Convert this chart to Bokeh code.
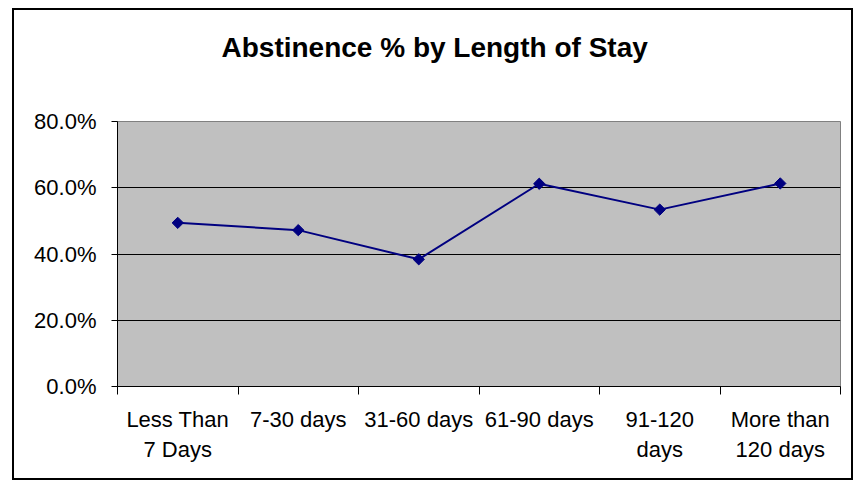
from bokeh.plotting import figure
from bokeh.models import FixedTicker, NumeralTickFormatter, Range1d, ColumnDataSource, Title
from bokeh.embed import file_html
from bokeh.resources import INLINE
import numpy as np

title_text = "Abstinence % by Length of Stay"
categories = ["Less Than\n7 Days", "7-30 days", "31-60 days", "61-90 days", "91-120\ndays", "More than\n120 days"]
values = [0.494, 0.472, 0.384, 0.612, 0.534, 0.613]
y_ticks = [0.0, 0.2, 0.4, 0.6, 0.8]

xs = [i + 0.5 for i in range(len(categories))]
src = ColumnDataSource(dict(x=xs, y=values))

W, H = 841, 472
p = figure(width=W, height=H, output_backend="svg", toolbar_location=None,
           x_range=Range1d(0, len(categories)), y_range=Range1d(0, 0.8),
           min_border_left=103, min_border_right=15, min_border_top=111, min_border_bottom=96,
           styles={"border": "2px solid black"}, margin=(8, 0, 0, 12))

p.background_fill_color = "#C0C0C0"
p.border_fill_color = "white"
p.outline_line_color = "#808080"
p.outline_line_width = 1

# spacer panel between frame and chart title, then the title itself
p.add_layout(Title(text=" ", text_font_size="1px", standoff=56), "above")
p.add_layout(Title(text=title_text, align="left", offset=104, vertical_align="bottom", standoff=0,
                   text_font="Liberation Sans", text_font_size="28px", text_font_style="bold",
                   text_color="black"), "above")

p.line("x", "y", source=src, line_color="#000080", line_width=2)
p.scatter("x", "y", source=src, marker="square", angle=np.pi / 4, size=8,
          fill_color="#000080", line_color="#000080")

# x axis
p.xaxis.ticker = FixedTicker(ticks=xs, minor_ticks=list(range(len(categories) + 1)))
p.xaxis.major_label_overrides = {x: c for x, c in zip(xs, categories)}
p.xaxis.major_tick_out = 0
p.xaxis.major_tick_in = 0
p.xaxis.minor_tick_out = 8
p.xaxis.minor_tick_in = 0
p.xaxis.minor_tick_line_color = "black"
p.xaxis.axis_line_color = "black"
p.xaxis.major_label_standoff = 12
p.xaxis.major_label_text_font = "Liberation Sans"
p.xaxis.major_label_text_font_size = "22px"
p.xaxis.major_label_text_color = "black"
p.xaxis.major_label_text_align = "center"
p.xaxis.major_label_text_line_height = 1.22
p.xgrid.grid_line_color = None

# y axis
p.yaxis.ticker = FixedTicker(ticks=y_ticks)
p.yaxis.formatter = NumeralTickFormatter(format="0.0%")
p.yaxis.major_tick_out = 6
p.yaxis.major_tick_in = 0
p.yaxis.minor_tick_line_color = None
p.yaxis.axis_line_color = "black"
p.yaxis.major_tick_line_color = "black"
p.yaxis.major_label_standoff = 15
p.yaxis.major_label_text_font = "Liberation Sans"
p.yaxis.major_label_text_font_size = "22px"
p.yaxis.major_label_text_color = "black"
p.ygrid.grid_line_color = "black"
p.ygrid.grid_line_width = 1

open("out.html", "w").write(file_html(p, INLINE))
